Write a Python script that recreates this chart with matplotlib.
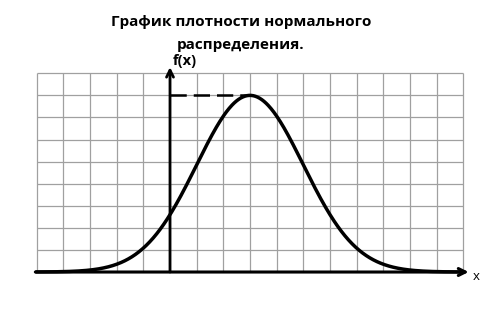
import numpy as np
import matplotlib
matplotlib.use("Agg")
import matplotlib.pyplot as plt

# Parameters (grid units)
title_lines = ["График плотности нормального", "распределения."]
mu = 3.0        # position of the peak
sigma = 2.0     # spread
peak = 8.0      # peak height
x_grid = list(range(-5, 12))   # vertical grid lines
y_grid = list(range(0, 10))    # horizontal grid lines

plt.rcParams['font.family'] = ['Open Sans', 'DejaVu Sans']

fig = plt.figure(figsize=(4.82, 3.24), dpi=100)
ax = fig.add_axes([0, 0, 1, 1])
ax.set_xlim(-6.375, 11.7)
ax.set_ylim(-2.355, 12.32)
ax.axis('off')

# grid
ax.vlines(x_grid, y_grid[0], y_grid[-1], colors='#a0a0a0', lw=0.9, zorder=1)
ax.hlines(y_grid, x_grid[0], x_grid[-1], colors='#a0a0a0', lw=0.9, zorder=1)

# x axis with arrow
ax.annotate('', xy=(11.2, 0), xytext=(-5.05, 0),
            arrowprops=dict(arrowstyle='->,head_length=0.5,head_width=0.25',
                            lw=2.2, color='black', shrinkA=0, shrinkB=0), zorder=3)
# y axis with arrow
ax.annotate('', xy=(0, 9.28), xytext=(0, 0),
            arrowprops=dict(arrowstyle='->,head_length=0.5,head_width=0.25',
                            lw=2.0, color='black', shrinkA=0, shrinkB=0), zorder=3)

# density curve
xs = np.linspace(-5.05, 10.9, 600)
ys = peak * np.exp(-0.5 * ((xs - mu) / sigma) ** 2)
ax.plot(xs, ys, color='black', lw=2.5, zorder=4, solid_capstyle='butt')

# dashed line to the peak
ax.plot([0, mu], [peak, peak], color='black', lw=1.8, dashes=(6.5, 2.8), zorder=4)

# labels
ax.text(0.1, 9.25, 'f(x)', fontsize=10.5, fontweight='bold', ha='left', va='bottom')
ax.text(11.35, -0.22, 'x', fontsize=9.5, ha='left', va='center')

fig.text(0.5, 1 - 22 / 324, title_lines[0], fontsize=11, fontweight='bold',
         ha='center', va='center')
fig.text(0.5, 1 - 45 / 324, title_lines[1], fontsize=11, fontweight='bold',
         ha='center', va='center')

fig.savefig('out.png', dpi=100)
